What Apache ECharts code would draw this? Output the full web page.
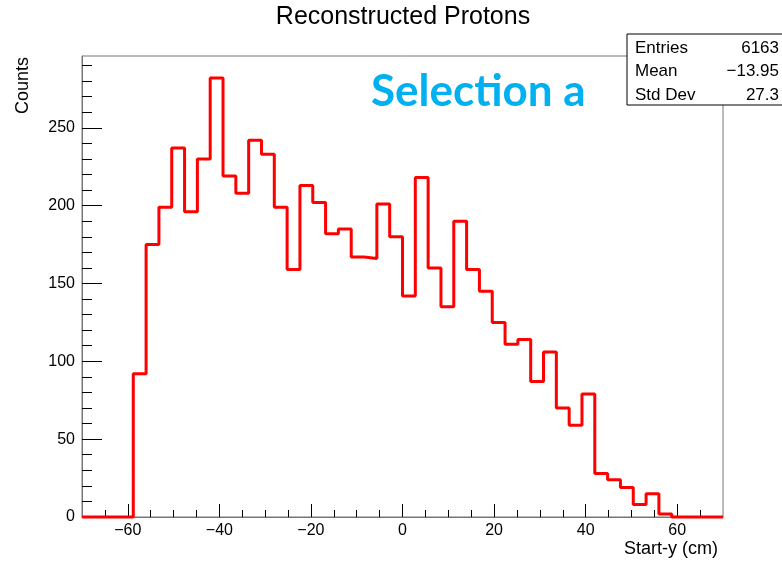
<!DOCTYPE html>
<html>
<head>
<meta charset="utf-8">
<script src="https://cdn.jsdelivr.net/npm/echarts@6/dist/echarts.min.js"></script>
<style>
  html, body { margin: 0; padding: 0; background: #fff; }
  #chart { width: 782px; height: 563px; }
</style>
</head>
<body>
<div id="chart"></div>
<script>
// Histogram binning of Start-y (cm)
const binLow = -70;
const binHigh = 70;
const binCount = 50;

// Counts per bin, lowest bin first
const counts = [
  0, 0, 0, 0, 92, 175, 199, 237, 196, 230,
  282, 219, 208, 242, 233, 199, 159, 213, 202, 182,
  185, 167, 166, 201, 180, 142, 218, 160, 135, 190,
  159, 145, 125, 111, 114, 87, 106, 70, 59, 79,
  28, 24, 19, 8, 15, 2, 0, 0, 0, 0
];

// Axis tick values
const xMajorTicks = [-60, -40, -20, 0, 20, 40, 60];
const xMinorTicks = [-65, -55, -50, -45, -35, -30, -25, -15, -10, -5, 5, 10, 15, 25, 30, 35, 45, 50, 55, 65];
const yMajorTicks = [0, 50, 100, 150, 200, 250];
const yMinorTicks = [10, 20, 30, 40, 60, 70, 80, 90, 110, 120, 130, 140, 160, 170, 180, 190, 210, 220, 230, 240, 260, 270, 280, 290];

// Statistics box rows
const statLabels = ['Entries', 'Mean', 'Std Dev'];
const statValues = ['6163', '\u221213.95', '27.3'];

const yMax = 1.05 * Math.max(...counts);
const binWidth = (binHigh - binLow) / binCount;

// Step outline: one point per lower bin edge, closed at the upper edge
const stepData = counts.map((c, i) => [binLow + i * binWidth, c]);
stepData.push([binHigh, counts[counts.length - 1]]);

const fmt = v => (v < 0 ? '\u2212' + Math.abs(v) : String(v));
const FONT = 'Liberation Sans';

const chart = echarts.init(document.getElementById('chart'), null, { renderer: 'canvas' });

const statGraphics = [];
statLabels.forEach((lab, i) => {
  statGraphics.push({
    type: 'text', x: 635, y: 48.5 + i * 23.3, z: 102,
    style: { text: lab, font: '17px ' + FONT, fill: '#000', textAlign: 'left', textVerticalAlign: 'middle' }
  });
  statGraphics.push({
    type: 'text', x: 779, y: 48.5 + i * 23.3, z: 102,
    style: { text: statValues[i], font: '17px ' + FONT, fill: '#000', textAlign: 'right', textVerticalAlign: 'middle' }
  });
});

const axisLineStyle = { show: true, onZero: false, lineStyle: { color: '#777', width: 1 } };

chart.setOption({
  animation: false,
  backgroundColor: '#fff',
  grid: {
    left: 82, right: 59, top: 56, bottom: 46,
    show: true, borderColor: '#777', borderWidth: 1, backgroundColor: 'transparent'
  },
  xAxis: [
    {
      type: 'value', min: binLow, max: binHigh, position: 'bottom',
      axisLine: axisLineStyle,
      axisTick: { show: true, inside: true, length: 13, customValues: xMajorTicks, lineStyle: { color: '#000', width: 1 } },
      axisLabel: { show: true, customValues: xMajorTicks, formatter: fmt, margin: 6, color: '#000', fontSize: 16, fontFamily: FONT },
      splitLine: { show: false }
    },
    {
      type: 'value', min: binLow, max: binHigh, position: 'bottom',
      axisLine: { show: false, onZero: false },
      axisTick: { show: true, inside: true, length: 7, customValues: xMinorTicks, lineStyle: { color: '#000', width: 1 } },
      axisLabel: { show: false },
      splitLine: { show: false }
    }
  ],
  yAxis: [
    {
      type: 'value', min: 0, max: yMax, position: 'left',
      axisLine: axisLineStyle,
      axisTick: { show: true, inside: true, length: 20, customValues: yMajorTicks, lineStyle: { color: '#000', width: 1 } },
      axisLabel: { show: true, customValues: yMajorTicks, formatter: fmt, margin: 7, color: '#000', fontSize: 16, fontFamily: FONT },
      splitLine: { show: false }
    },
    {
      type: 'value', min: 0, max: yMax, position: 'left',
      axisLine: { show: false, onZero: false },
      axisTick: { show: true, inside: true, length: 10, customValues: yMinorTicks, lineStyle: { color: '#000', width: 1 } },
      axisLabel: { show: false },
      splitLine: { show: false }
    }
  ],
  series: [{
    type: 'line',
    xAxisIndex: 0, yAxisIndex: 0,
    data: stepData,
    step: 'end',
    showSymbol: false,
    symbol: 'none',
    clip: false,
    lineStyle: { color: '#ff0000', width: 3 },
    z: 5
  }],
  graphic: [
    {
      type: 'text', x: 403, y: 17.5,
      style: { text: 'Reconstructed Protons', font: '25px ' + FONT, fill: '#000', textAlign: 'center', textVerticalAlign: 'middle' }
    },
    {
      type: 'text', x: 371, y: 92,
      style: { text: 'Selection a', font: 'bold 44px Lato', fill: '#00b0f0', textAlign: 'left', textVerticalAlign: 'middle' }
    },
    {
      type: 'text', x: 14, y: 57, rotation: Math.PI / 2,
      style: { text: 'Counts', font: '18px ' + FONT, fill: '#000', textAlign: 'right', textVerticalAlign: 'top' }
    },
    {
      type: 'text', x: 718, y: 549,
      style: { text: 'Start-y (cm)', font: '18px ' + FONT, fill: '#000', textAlign: 'right', textVerticalAlign: 'middle' }
    },
    {
      type: 'rect', x: 627, y: 34, z: 100,
      shape: { width: 160, height: 71 },
      style: { fill: '#fff', stroke: '#000', lineWidth: 1 }
    },
    ...statGraphics
  ]
});
</script>
</body>
</html>
